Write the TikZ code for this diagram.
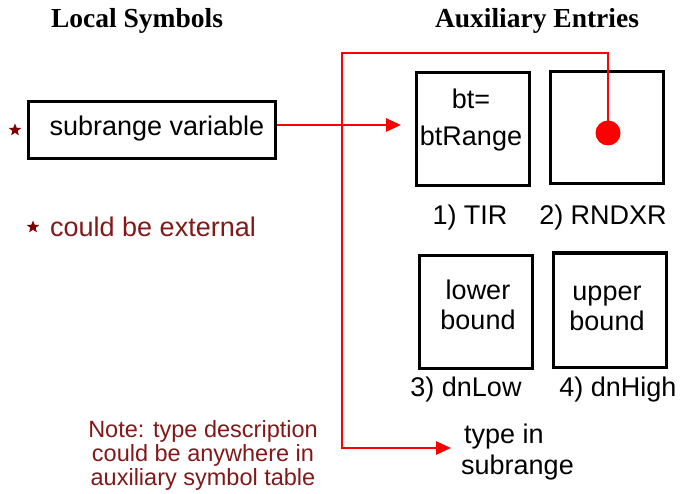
\documentclass[tikz,border=0pt]{standalone}
\usepackage{fontspec}
\setmainfont{Liberation Sans}
\newfontfamily\headfont{Liberation Serif}
\usetikzlibrary{arrows.meta,shapes.geometric}
\definecolor{starred}{RGB}{128,0,0}
\definecolor{notered}{RGB}{130,25,25}
\definecolor{linered}{RGB}{255,0,0}
\tikzset{
  heading/.style={font=\headfont\bfseries\fontsize{27.5}{30}\selectfont, inner sep=0pt},
  boxnode/.style={draw=black, line width=3pt, inner sep=0pt},
  lbl/.style={font=\fontsize{27}{30}\selectfont, inner sep=0pt, align=center},
  notetxt/.style={font=\fontsize{23.5}{24}\selectfont, text=notered, inner sep=0pt, align=center},
  starmark/.style={star, star points=5, star point ratio=2.3, fill=starred, inner sep=0pt, minimum size=13pt},
  redline/.style={draw=linered, line width=2.5pt},
  redarrow/.style={redline, -{Triangle[length=15pt,width=13pt]}},
}
\begin{document}
\begin{tikzpicture}[x=1pt,y=-1pt]
\useasboundingbox (0,0) rectangle (682,494);
% headings
\node[heading] (hlocal) at (137,21) {Local Symbols};
\node[heading] (haux) at (537,21) {Auxiliary Entries};
% local symbol box
\node[boxnode, minimum width=247pt, minimum height=57pt] (subvar) at (151.5,130.5) {};
\node[lbl] (subvartxt) at (157,129) {subrange variable};
\node[starmark] (star1) at (15,130) {};
\node[starmark] (star2) at (33,227) {};
\node[lbl, text=notered, anchor=west] (ext) at (50,227) {could be external};
% auxiliary boxes
\node[boxnode, minimum width=113pt, minimum height=113pt] (tir) at (472.5,129.5) {};
\node[lbl, font=\fontsize{27}{37}\selectfont] (tirtxt) at (471,120) {bt=\\btRange};
\node[boxnode, minimum width=113pt, minimum height=112pt] (rnd) at (606.5,128) {};
\node[lbl] (tirl) at (470,218) {1) TIR};
\node[lbl] (rndl) at (603,218) {2) RNDXR};
\node[boxnode, minimum width=113pt, minimum height=113pt] (low) at (475.5,311.5) {};
\node[lbl] (lowtxt) at (478,305) {lower\\bound};
\node[boxnode, minimum width=113pt, minimum height=114pt] (up) at (609.5,310) {};
\node[lbl] (uptxt) at (607,308) {upper\\bound};
\node[lbl] (lowl) at (466,390) {3) dnLow};
\node[lbl] (upl) at (618,390) {4) dnHigh};
\node[lbl, align=left, anchor=west, font=\fontsize{27}{31}\selectfont] (type) at (461,452) {\hspace*{3pt}type in\\subrange};
% note
\node[notetxt] (note) at (203,455) {Note: type description\\could be anywhere in\\auxiliary symbol table};
% red connectors
\node[circle, fill=linered, minimum size=25pt, inner sep=0pt] (dot) at (608,133) {};
\coordinate (ctop) at (608,53);
\coordinate (cleft) at (342,53);
\coordinate (cbot) at (342,448);
\coordinate (tip1) at (401,125);
\coordinate (tip2) at (451,448);
\draw[redarrow] (subvar.east |- 0,125) -- (tip1);
\draw[redarrow] (dot.center) -- (ctop) -- (cleft) -- (cbot) -- (tip2);
\end{tikzpicture}
\end{document}
